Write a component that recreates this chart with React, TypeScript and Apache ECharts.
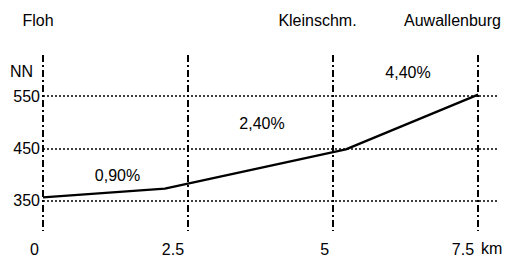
import React, { useEffect, useRef } from "react";
import * as echarts from "echarts";

// distance (km) and elevation (m NN) of the profile
const distanceKm = [0, 2.1, 5.22, 7.5];
const elevation = [356, 373, 448, 553];
const gridElevations = [350, 450, 550];
const kmTicks = ["0", "2.5", "5", "7.5"];
const places = ["Floh", "Kleinschm.", "Auwallenburg"];
const slopes = ["0,90%", "2,40%", "4,40%"];

const FONT = '"Liberation Sans", Arial, Helvetica, sans-serif';

export default function App() {
  const ref = useRef<HTMLDivElement>(null);
  useEffect(() => {
    if (!ref.current) return;
    const chart = echarts.init(ref.current, null, { renderer: "svg" });
    const txt = (text: string, x: number, y: number, align: string, size = 16) => ({
      type: "text",
      x,
      y,
      style: {
        text,
        fill: "#000",
        font: `${size}px ${FONT}`,
        align,
        verticalAlign: "middle",
      },
    });
    chart.setOption({
      animation: false,
      backgroundColor: "#fff",
      grid: { left: 43, right: 9, top: 55, bottom: 25 },
      xAxis: {
        type: "value",
        min: 0,
        max: 7.86,
        interval: 2.5,
        axisLine: { show: false },
        axisTick: { show: false },
        axisLabel: {
          color: "#000",
          fontFamily: FONT,
          fontSize: 16,
          margin: 10,
          align: "right",
          padding: [0, 4, 0, 0],
          showMaxLabel: false,
          formatter: (v: number) => {
            const i = Math.round(v / 2.5);
            return Math.abs(v - i * 2.5) < 1e-6 ? kmTicks[i] ?? "" : "";
          },
        },
        splitLine: {
          show: true,
          showMaxLine: false,
          lineStyle: { color: "#000", width: 2, type: [7, 3, 2, 3] },
        },
      },
      yAxis: {
        type: "value",
        min: 291.7,
        max: 628.9,
        axisLine: { show: false },
        axisTick: { show: false },
        axisLabel: { show: false },
        splitLine: { show: false },
      },
      series: [
        {
          type: "line",
          data: distanceKm.map((d, i) => [d, elevation[i]]),
          symbol: "none",
          lineStyle: { color: "#000", width: 2.3 },
          z: 5,
          markLine: {
            silent: true,
            symbol: "none",
            lineStyle: { color: "#000", width: 1.5, type: [2, 2] },
            label: {
              show: true,
              position: "start",
              distance: 3,
              color: "#000",
              fontFamily: FONT,
              fontSize: 16,
              formatter: (p: any) => String(p.value),
            },
            data: gridElevations.map((v) => ({ yAxis: v })),
          },
        },
      ],
      graphic: [
        txt(places[0], 38, 20, "center"),
        txt(places[1], 317.5, 20, "center"),
        txt(places[2], 452.5, 20, "center"),
        txt("NN", 10, 71, "left"),
        txt(slopes[0], 117.5, 175, "center"),
        txt(slopes[1], 262, 123, "center"),
        txt(slopes[2], 408, 72, "center"),
        txt("km", 481, 248, "left"),
      ],
    });
    return () => chart.dispose();
  }, []);
  return (
    <div
      ref={ref}
      style={{ position: "fixed", left: 0, top: 0, width: 508, height: 257, background: "#fff" }}
    />
  );
}
